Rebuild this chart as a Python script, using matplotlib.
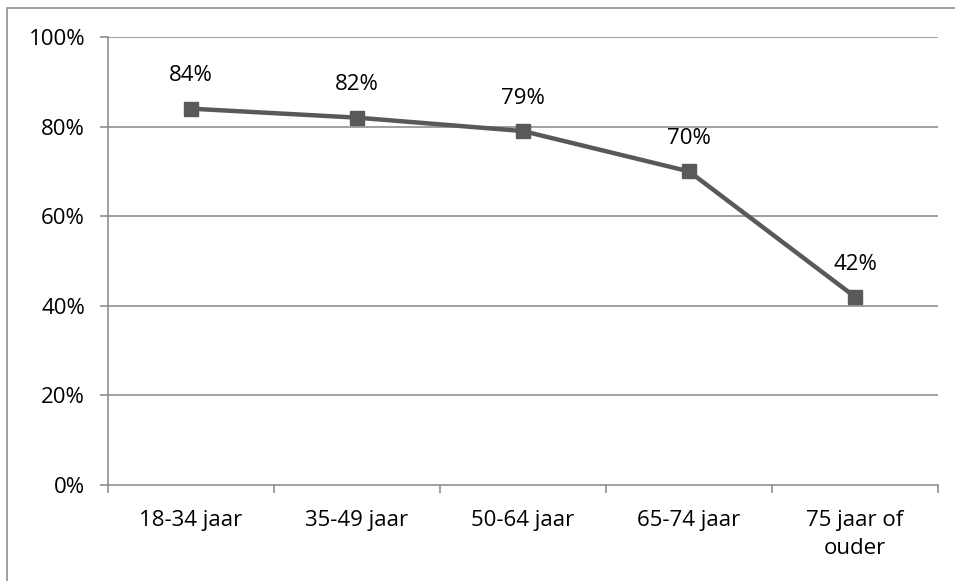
import matplotlib.pyplot as plt
from matplotlib.patches import Rectangle

categories = ['18-34 jaar', '35-49 jaar', '50-64 jaar', '65-74 jaar', '75 jaar of\nouder']
values = [84, 82, 79, 70, 42]
yticks = [0, 20, 40, 60, 80, 100]

plt.rcParams['font.family'] = ['Open Sans', 'DejaVu Sans']
fs = 16

fig = plt.figure(figsize=(9.55, 5.81), dpi=100)
W, H = 955, 581
ax = fig.add_axes([108 / W, 1 - 485 / H, 830 / W, 448 / H])

grid_col = '#868686'
line_col = '#595959'

x = list(range(len(categories)))
ax.set_xlim(-0.5, len(categories) - 0.5)
ax.set_ylim(0, 100)

for t in yticks[1:]:
    ax.axhline(t, color=grid_col, lw=1.1, zorder=1)

ax.plot(x, values, color=line_col, lw=3.2, marker='s', markersize=10.5, zorder=3)
for xi, v in zip(x, values):
    ax.annotate(f'{v}%', (xi, v), xytext=(0, 16), textcoords='offset points',
                ha='center', va='bottom', fontsize=fs, color='black')

for s in ['top', 'right']:
    ax.spines[s].set_visible(False)
for s in ['left', 'bottom']:
    ax.spines[s].set_color(grid_col)
    ax.spines[s].set_linewidth(1.1)

ax.set_yticks(yticks)
ax.set_yticklabels([f'{t}%' for t in yticks], fontsize=fs)
ax.tick_params(axis='y', length=5.5, width=1.1, color=grid_col, pad=11)

# category labels centred, tick marks on category boundaries
ax.set_xticks(x)
ax.set_xticklabels(categories, fontsize=fs, linespacing=1.45, va='top')
ax.tick_params(axis='x', which='major', length=0, pad=18)
ax.set_xticks([i - 0.5 for i in range(len(categories) + 1)], minor=True)
ax.tick_params(axis='x', which='minor', length=5.5, width=1.1, color=grid_col)

fig.patches.append(Rectangle((7 / W, -0.05), 1.2, 1 - 8 / H + 0.05, transform=fig.transFigure,
                             fill=False, edgecolor=grid_col, lw=1.1))

fig.savefig('out.png', dpi=100)
